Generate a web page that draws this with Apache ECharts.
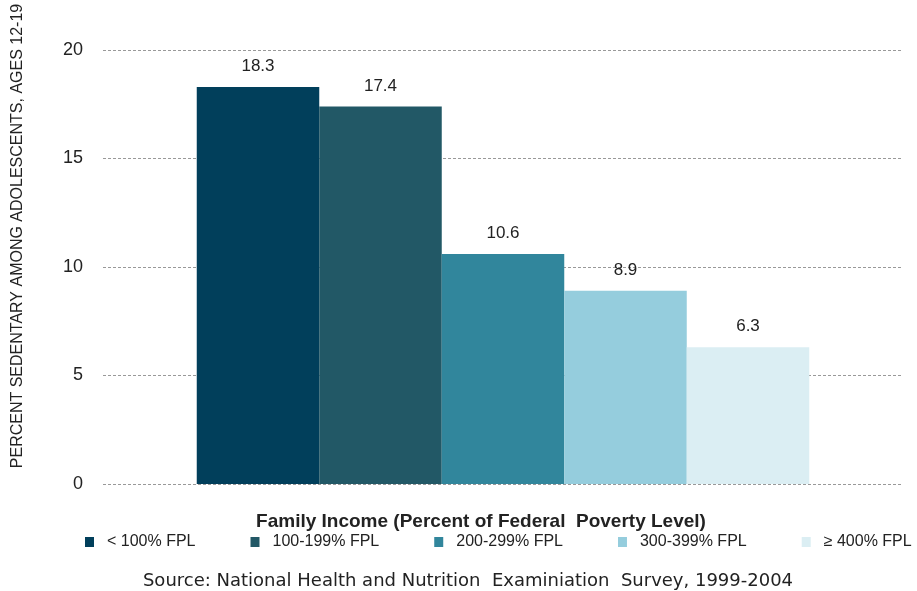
<!DOCTYPE html>
<html>
<head>
<meta charset="utf-8">
<script src="https://cdn.jsdelivr.net/npm/echarts@6/dist/echarts.min.js"></script>
<style>
  html, body { margin: 0; padding: 0; background: #fff; }
  #chart { width: 917px; height: 591px; }
</style>
</head>
<body>
<div id="chart"></div>
<script>
// income groups (legend) and values
var groups = ['< 100% FPL', '100-199% FPL', '200-299% FPL', '300-399% FPL', '\u2265 400% FPL'];
var values = [18.3, 17.4, 10.6, 8.9, 6.3];
var colors = ['#013f5b', '#225866', '#31869c', '#95cddd', '#dbeef3'];
var yTicks = [0, 5, 10, 15, 20];

var FONT = 'Liberation Sans, Arial, sans-serif';

var chart = echarts.init(document.getElementById('chart'));

var series = [];
for (var i = 0; i < groups.length; i++) {
	series.push({
		name: groups[i],
		type: 'bar',
		data: [values[i]],
		barWidth: 122.5,
		barGap: '0%',
		itemStyle: { color: colors[i] },
		label: {
			show: true,
			position: 'top',
			distance: 12,
			color: '#222',
			fontFamily: FONT,
			fontSize: 17,
			formatter: function (p) { return p.value.toFixed(1); }
		}
	});
}

chart.setOption({
	animation: false,
	textStyle: { fontFamily: FONT },
	grid: { left: 103, right: 14, top: 50, bottom: 107 },
	xAxis: {
		type: 'category',
		data: [''],
		axisLine: { show: false },
		axisTick: { show: false },
		axisLabel: { show: false },
		name: 'Family Income (Percent of Federal  Poverty Level)',
		nameLocation: 'middle',
		nameGap: 28,
		nameTextStyle: { color: '#222', fontSize: 19, fontWeight: 'bold', fontFamily: FONT, padding: [0, 44, 0, 0] }
	},
	yAxis: {
		type: 'value',
		min: yTicks[0],
		max: yTicks[yTicks.length - 1],
		interval: 5,
		axisLine: { show: false },
		axisTick: { show: false },
		axisLabel: { color: '#222', fontSize: 18, margin: 20, fontFamily: FONT },
		splitLine: { lineStyle: { color: '#999', type: [3, 2], width: 1 } }
	},
	legend: {
		data: groups,
		left: 80,
		top: 529,
		itemGap: 55,
		itemWidth: 9,
		itemHeight: 10,
		icon: 'rect',
		textStyle: { color: '#222', fontSize: 16, fontFamily: FONT, padding: [0, 0, 0, 8] }
	},
	graphic: [{
		type: 'text',
		x: 18,
		y: 236,
		rotation: Math.PI / 2,
		style: {
			text: 'PERCENT SEDENTARY AMONG ADOLESCENTS, AGES 12-19',
			fill: '#222',
			font: '16px ' + FONT,
			align: 'center',
			verticalAlign: 'middle'
		}
	}, {
		type: 'text',
		x: 468,
		y: 581,
		style: {
			text: 'Source: National Health and Nutrition  Examiniation  Survey, 1999-2004',
			fill: '#222',
			font: '18px "DejaVu Sans", sans-serif',
			align: 'center',
			verticalAlign: 'middle'
		}
	}],
	series: series
});
</script>
</body>
</html>
